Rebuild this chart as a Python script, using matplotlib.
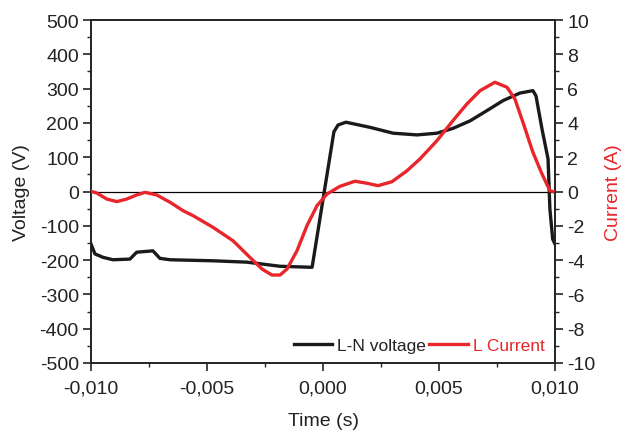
import matplotlib
matplotlib.use("Agg")
import matplotlib.pyplot as plt
from matplotlib.ticker import MultipleLocator, FuncFormatter

plt.rcParams['font.family'] = ['Liberation Sans', 'DejaVu Sans']

# L-N voltage waveform (time in s, voltage in V)
t_volt = [-0.0100, -0.00983, -0.00948, -0.00905, -0.00832, -0.00803, -0.00733,
          -0.00703, -0.00659, -0.00474, -0.00328, -0.00185, -0.00047, 0.00047,
          0.00065, 0.00099, 0.00203, 0.00302, 0.00405, 0.00491, 0.0056,
          0.00634, 0.00707, 0.00776, 0.00849, 0.00905, 0.00918, 0.00944,
          0.0097, 0.00978, 0.0099, 0.0100]
voltage = [-153, -182, -192, -199, -197, -177, -173, -195, -199, -202, -206,
           -218, -221, 174, 194, 202, 187, 170, 165, 170, 184, 206, 236, 265,
           287, 294, 279, 182, 95, -51, -139, -153]

# L current waveform (time in s, current in A)
t_curr = [-0.00997, -0.00975, -0.00932, -0.00889, -0.00846, -0.00803, -0.00767,
          -0.00717, -0.00659, -0.00603, -0.0056, -0.00474, -0.00388, -0.00315,
          -0.00263, -0.0022, -0.00185, -0.00155, -0.00112, -0.00069, -0.00026,
          0.00017, 0.00073, 0.00138, 0.0019, 0.00237, 0.00297, 0.00362,
          0.00418, 0.00491, 0.0056, 0.0062, 0.00677, 0.00741, 0.00793,
          0.00827, 0.00862, 0.00905, 0.00944, 0.00978, 0.00991]
current = [0.0, -0.09, -0.44, -0.59, -0.44, -0.2, -0.05, -0.2, -0.63, -1.12,
           -1.41, -2.09, -2.87, -3.84, -4.52, -4.87, -4.87, -4.52, -3.45, -1.99,
           -0.83, -0.15, 0.3, 0.6, 0.48, 0.34, 0.57, 1.21, 1.9, 2.96, 4.13,
           5.1, 5.88, 6.37, 6.08, 5.4, 4.03, 2.28, 1.02, 0.05, 0.0]

black = '#1a1a1a'
red = '#e8262b'

fig = plt.figure(figsize=(6.22, 4.31), dpi=100)
ax = fig.add_axes([91 / 622, 1 - 364 / 431, (555 - 91) / 622, (364 - 21) / 431])
ax2 = ax.twinx()

ax.axhline(0, color='black', lw=0.9, zorder=1)
l1, = ax.plot(t_volt, voltage, color=black, lw=2.4, label='L-N voltage',
              solid_joinstyle='round', zorder=3)
l2, = ax2.plot(t_curr, current, color=red, lw=2.4, label='L Current',
               solid_joinstyle='round', zorder=3)

ax.set_xlim(-0.0100, 0.0100)
ax.set_ylim(-500, 500)
ax2.set_ylim(-10, 10)

ax.xaxis.set_major_locator(MultipleLocator(0.005))
ax.xaxis.set_minor_locator(MultipleLocator(0.0025))
ax.yaxis.set_major_locator(MultipleLocator(100))
ax.yaxis.set_minor_locator(MultipleLocator(50))
ax2.yaxis.set_major_locator(MultipleLocator(2))
ax2.yaxis.set_minor_locator(MultipleLocator(1))

ax.xaxis.set_major_formatter(FuncFormatter(lambda v, p: f"{v:.3f}".replace('.', ',').replace('-0,000', '0,000')))
ax.yaxis.set_major_formatter(FuncFormatter(lambda v, p: f"{v:.0f}"))
ax2.yaxis.set_major_formatter(FuncFormatter(lambda v, p: f"{v:.0f}"))

for a in (ax, ax2):
    a.tick_params(which='major', length=5.8, width=1.2, direction='out',
                  labelsize=14, pad=3, colors='#222222', labelcolor='#222222')
    a.tick_params(which='minor', length=3, width=1.0, direction='out', colors='#222222')
    for s in a.spines.values():
        s.set_linewidth(1.2)
        s.set_color('#222222')
ax.tick_params(axis='x', which='major', pad=6)

ax.set_xlabel('Time (s)', fontsize=14, labelpad=11, color='#222222')
ax.set_ylabel('Voltage (V)', fontsize=14, labelpad=7, color='#222222')
ax2.set_ylabel('Current (A)', fontsize=14, color=red, labelpad=7)

leg = ax.legend(handles=[l1, l2], loc='lower right', ncol=2, frameon=False,
                fontsize=12.5, handlelength=2.2, handletextpad=0.3,
                columnspacing=0.2, borderaxespad=0.2, bbox_to_anchor=(1.0, 0.0))
leg.get_texts()[0].set_color('#222222')
leg.get_texts()[1].set_color(red)

fig.savefig('out.png', dpi=100)
